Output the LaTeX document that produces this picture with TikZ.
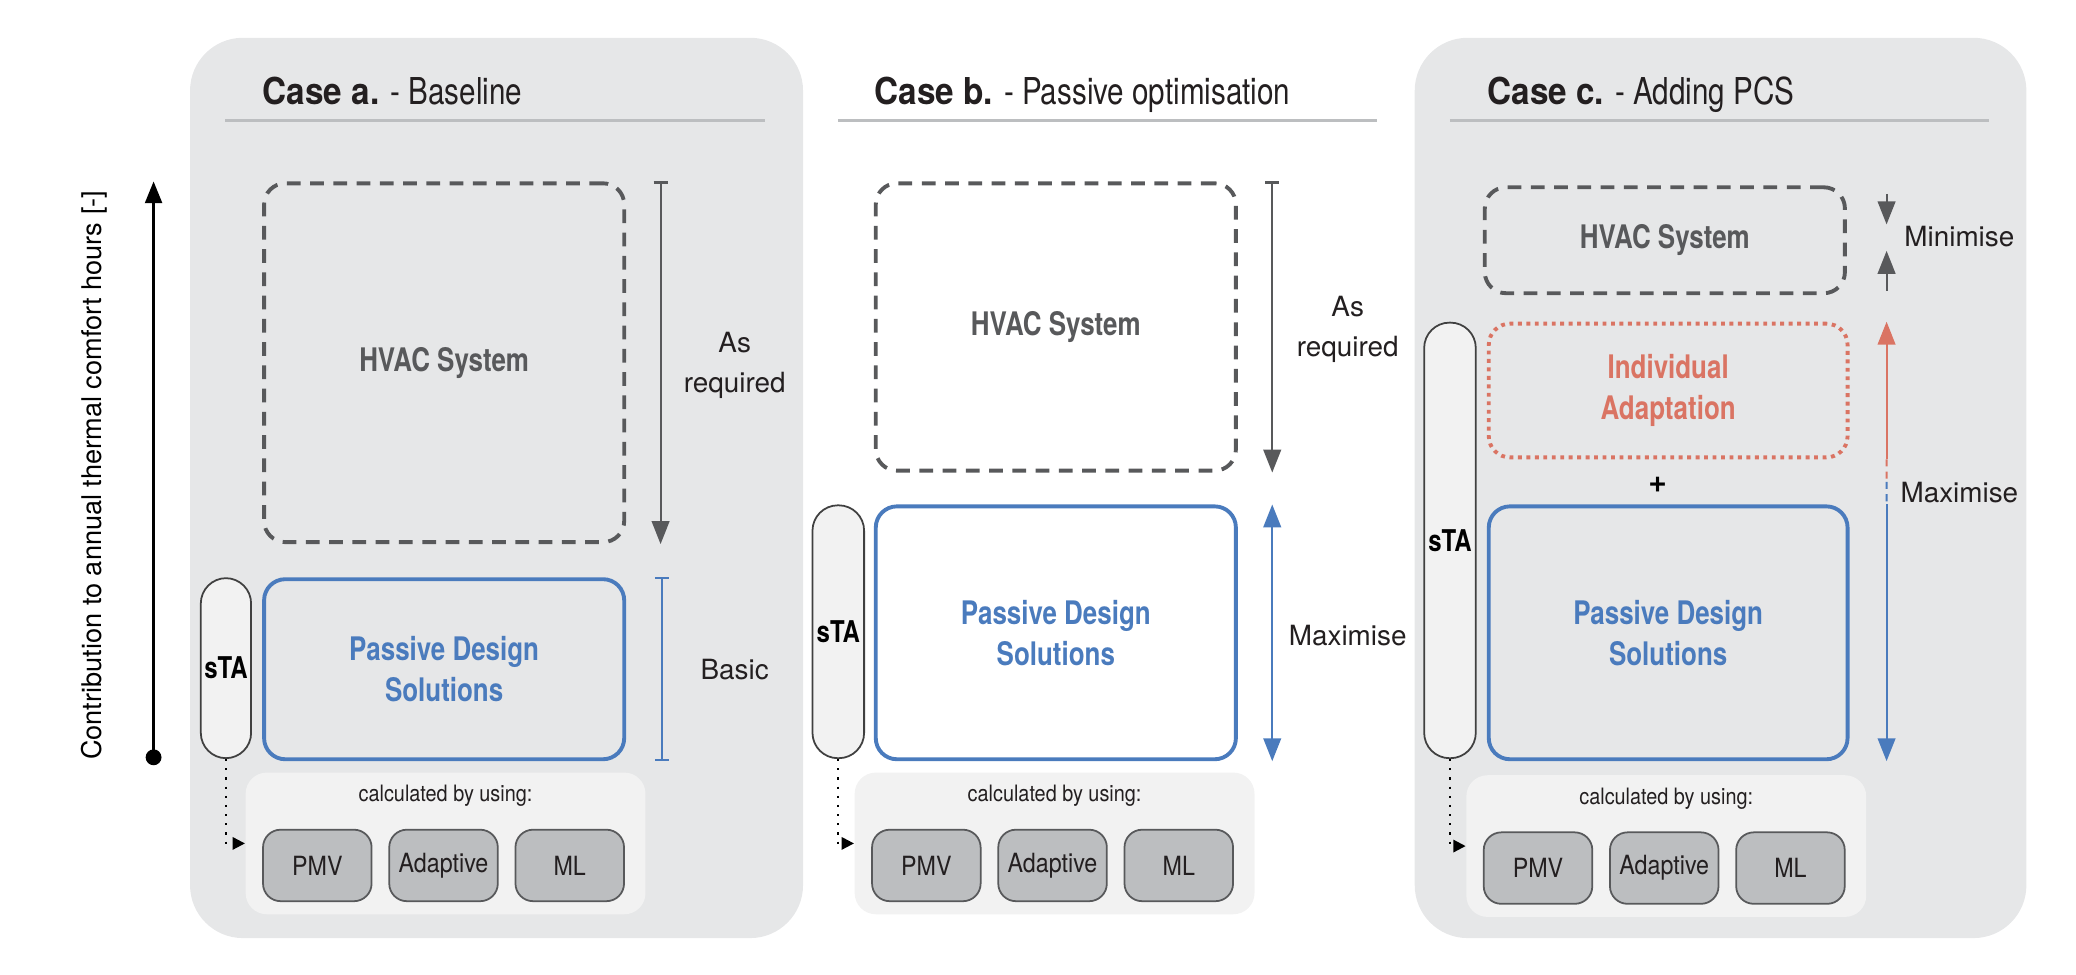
\documentclass[tikz,border=0pt]{standalone}
\usepackage{fontspec}
\setmainfont{TeX Gyre Heros}
\newfontfamily\condfont{TeX Gyre Heros}[FakeStretch=0.8]
\newfontfamily\headfont{TeX Gyre Heros}[FakeStretch=0.9]
\newfontfamily\narrowfont{TeX Gyre Heros}[FakeStretch=0.88]
\usetikzlibrary{arrows.meta,positioning,calc}

\definecolor{panelgray}{HTML}{E6E7E8}
\definecolor{calcgray}{HTML}{F2F2F2}
\definecolor{methodgray}{HTML}{BCBEC0}
\definecolor{rulegray}{HTML}{BCBEC0}
\definecolor{hvacgray}{HTML}{58595B}
\definecolor{pdsblue}{HTML}{4A7BBD}
\definecolor{pcsred}{HTML}{DA7463}
\definecolor{inkblack}{HTML}{231F20}

\newcommand{\unitpx}{0.0132cm}
\newcommand{\casehead}[1]{{\headfont\bfseries #1}}

\begin{document}
\begin{tikzpicture}[
    x=0.0132cm, y=-0.0132cm,
    panel/.style={fill=panelgray, rounded corners=15pt, anchor=north west},
    boxsize/.style 2 args={minimum width=#1*\unitpx, minimum height=#2*\unitpx},
    title/.style={anchor=base west, inner sep=0pt, text=inkblack, font=\condfont\fontsize{10.5}{12}\selectfont},
    titlerule/.style={draw=rulegray, line width=0.75pt},
    hvacbox/.style={draw=hvacgray, line width=1.1pt, dash pattern=on 3.9pt off 2.7pt, rounded corners=6pt, inner sep=0pt, anchor=north west, text=hvacgray, font=\condfont\bfseries\fontsize{9.2}{11}\selectfont},
    pdsbox/.style={draw=pdsblue, line width=1.1pt, rounded corners=6pt, inner sep=0pt, anchor=north west, align=center, text=pdsblue, font=\condfont\bfseries\fontsize{9.2}{11.6}\selectfont},
    adaptbox/.style={draw=pcsred, line width=1.1pt, dash pattern=on 1.1pt off 1.3pt, rounded corners=6pt, inner sep=0pt, anchor=north west, align=center, text=pcsred, font=\condfont\bfseries\fontsize{9.2}{11.6}\selectfont},
    stapill/.style={draw=black!75, line width=0.5pt, fill=calcgray, rounded corners=7.2pt, inner sep=0pt, anchor=north west, font=\condfont\bfseries\fontsize{8.5}{10}\selectfont},
    calcbox/.style={fill=calcgray, rounded corners=6pt, inner sep=0pt, anchor=north west},
    calctext/.style={text=inkblack, font=\narrowfont\fontsize{6.4}{7}\selectfont},
    method/.style={draw=hvacgray, line width=0.5pt, fill=methodgray, rounded corners=5pt, inner sep=1pt, anchor=north west, boxsize={82}{54}, text=inkblack, font=\narrowfont\fontsize{7.5}{9}\selectfont},
    dimlabel/.style={align=center, text=inkblack, font=\fontsize{7.9}{11.3}\selectfont},
    axisarrow/.style={draw=black, line width=0.8pt, -{Triangle[width=4.8pt,length=6.2pt]}},
    asreq/.style={draw=hvacgray, line width=0.6pt, {Bar[width=4pt]}-{Triangle[width=5pt,length=6.5pt]}},
    greyarrow/.style={draw=hvacgray, line width=0.6pt, -{Triangle[width=5pt,length=6.5pt]}},
    basicbar/.style={draw=pdsblue, line width=0.6pt, {Bar[width=4pt]}-{Bar[width=4pt]}},
    bluearrow/.style={draw=pdsblue, line width=0.6pt, -{Triangle[width=5pt,length=6.5pt]}},
    redarrow/.style={draw=pcsred, line width=0.6pt, -{Triangle[width=5pt,length=6.5pt]}},
    finedash/.style={line width=0.6pt, dash pattern=on 2pt off 1.5pt},
    dotarrow/.style={draw=black, line width=0.6pt, dotted, -{Triangle[width=3.5pt,length=3.5pt]}}
]
\useasboundingbox (0,0) rectangle (1568,736);

% panels
\node[panel, boxsize={463}{680}] (panelA) at (143,28) {};
\node[panel, boxsize={462}{680}] (panelC) at (1068,28) {};

% titles
\node[title] (titleA) at (198,79) {\casehead{Case a.} - Baseline};
\draw[titlerule] (170,91) -- (578,91);
\node[title] (titleB) at (660,79) {\casehead{Case b.} - Passive optimisation};
\draw[titlerule] (633,91) -- (1040,91);
\node[title] (titleC) at (1123,79) {\casehead{Case c.} - Adding PCS};
\draw[titlerule] (1095,91) -- (1502,91);

% vertical axis
\node[circle, fill=black, inner sep=0pt, minimum size=4.5pt] (axisdot) at (116,572) {};
\coordinate (axistop) at (116,137);
\draw[axisarrow] (axisdot.center) -- (axistop);
\node[rotate=90, text=black, font=\fontsize{7.7}{9}\selectfont] (axislabel) at (71,359) {Contribution to annual thermal comfort hours [-]};

% case a
\node[hvacbox, boxsize={272}{271}] (hvacA) at (198,137) {HVAC System};
\node[pdsbox, boxsize={272}{136}] (pdsA) at (198,436) {Passive Design\\Solutions};
\node[stapill, boxsize={38}{136}] (staA) at (151,436) {sTA};
\node[calcbox, boxsize={302}{107}] (calcA) at (185,583) {};
\node[calctext] at ($(calcA.north)+(0,18)$) {calculated by using:};
\node[method] (pmvA) at ($(calcA.north west)+(13,43)$) {PMV};
\node[method, right=12*\unitpx of pmvA] (adaptA) {Adaptive};
\node[method, right=12*\unitpx of adaptA] (mlA) {ML};
\draw[dotarrow] (staA.south) |- (calcA.west);
\draw[asreq] ([xshift=26*\unitpx]hvacA.north east) -- ([xshift=26*\unitpx]hvacA.south east);
\node[dimlabel] at ($(hvacA.east)+(82,2)$) {As\\required};
\draw[basicbar] ([xshift=27*\unitpx]pdsA.north east) -- ([xshift=27*\unitpx]pdsA.south east);
\node[dimlabel] at ($(pdsA.east)+(82,0)$) {Basic};

% case b
\node[hvacbox, boxsize={272}{217}] (hvacB) at (660,137) {HVAC System};
\node[pdsbox, boxsize={272}{191}] (pdsB) at (660,381) {Passive Design\\Solutions};
\node[stapill, boxsize={39}{191}] (staB) at (613,381) {sTA};
\node[calcbox, boxsize={302}{107}] (calcB) at (645,583) {};
\node[calctext] at ($(calcB.north)+(0,18)$) {calculated by using:};
\node[method] (pmvB) at ($(calcB.north west)+(13,43)$) {PMV};
\node[method, right=12*\unitpx of pmvB] (adaptB) {Adaptive};
\node[method, right=12*\unitpx of adaptB] (mlB) {ML};
\draw[dotarrow] (staB.south) |- (calcB.west);
\draw[asreq] ([xshift=26*\unitpx]hvacB.north east) -- ([xshift=26*\unitpx]hvacB.south east);
\node[dimlabel] at ($(hvacB.east)+(83,2)$) {As\\required};
\draw[bluearrow, {Triangle[width=5pt,length=6.5pt]}-{Triangle[width=5pt,length=6.5pt]}] ([xshift=26*\unitpx]pdsB.north east) -- ([xshift=26*\unitpx]pdsB.south east);
\node[dimlabel] at ($(pdsB.east)+(83,2)$) {Maximise};

% case c
\node[hvacbox, boxsize={272}{80}] (hvacC) at (1120,140) {HVAC System};
\node[adaptbox, boxsize={271}{101}] (indivC) at (1123,243) {Individual\\Adaptation};
\node[pdsbox, boxsize={271}{191}] (pdsC) at (1123,381) {Passive Design\\Solutions};
\node[font=\bfseries\fontsize{9}{10}\selectfont] (plusC) at ($(indivC.south)!0.5!(pdsC.north)+(-8,2)$) {+};
\node[stapill, boxsize={39}{329}] (staC) at (1075,243) {sTA};
\node[calcbox, boxsize={302}{107}] (calcC) at (1107,585) {};
\node[calctext] at ($(calcC.north)+(0,18)$) {calculated by using:};
\node[method] (pmvC) at ($(calcC.north west)+(13,43)$) {PMV};
\node[method, right=12*\unitpx of pmvC] (adaptC) {Adaptive};
\node[method, right=12*\unitpx of adaptC] (mlC) {ML};
\draw[dotarrow] (staC.south) |- (calcC.west);
\coordinate (minC) at ($(hvacC.east)+(30,0)$);
\draw[greyarrow] ($(minC)+(0,-35)$) -- ($(minC)+(0,-12)$);
\draw[greyarrow] ($(minC)+(0,38)$) -- ($(minC)+(0,8)$);
\node[dimlabel] at ($(hvacC.east)+(85,-3)$) {Minimise};
\coordinate (maxC) at ($(indivC.south east)!0.5!(pdsC.north east)+(28,0)$);
\draw[redarrow] ([xshift=28*\unitpx]indivC.south east) -- ([xshift=28*\unitpx]indivC.north east);
\draw[finedash, draw=pcsred] ([xshift=28*\unitpx]indivC.south east) -- (maxC);
\draw[finedash, draw=pdsblue] (maxC) -- ([xshift=28*\unitpx]pdsC.north east);
\draw[bluearrow] ([xshift=28*\unitpx]pdsC.north east) -- ([xshift=28*\unitpx]pdsC.south east);
\node[dimlabel] at ($(maxC)+(55,8)$) {Maximise};
\end{tikzpicture}
\end{document}
